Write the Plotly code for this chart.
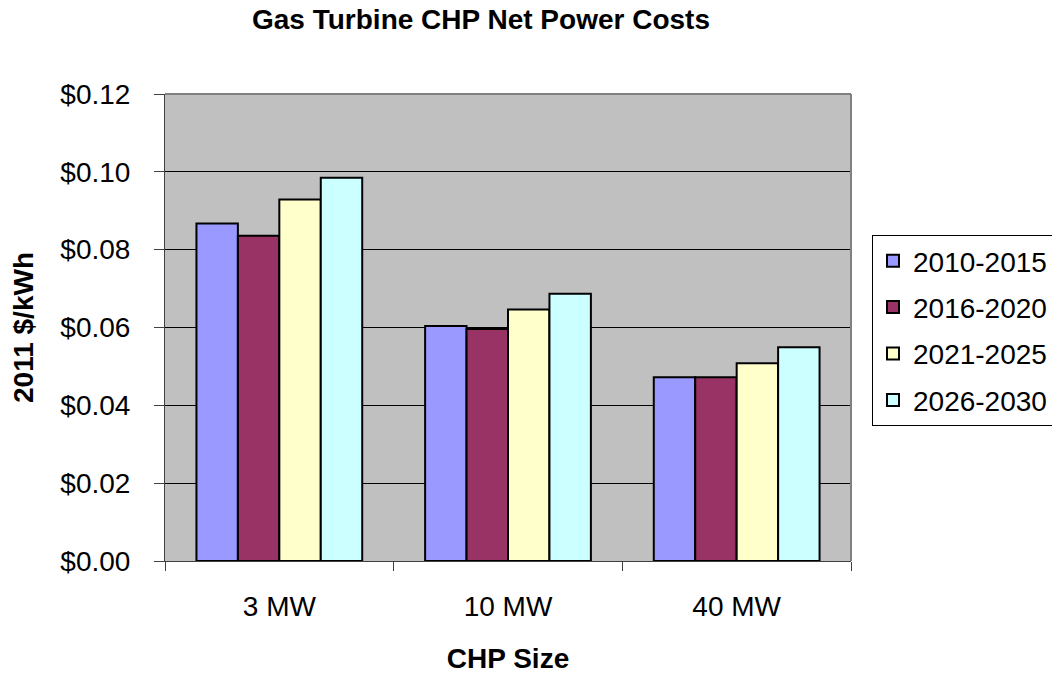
import plotly.graph_objects as go

categories = ["3 MW", "10 MW", "40 MW"]
series_names = ["2010-2015", "2016-2020", "2021-2025", "2026-2030"]
v_2010_2015 = [0.0867, 0.0604, 0.0472]
v_2016_2020 = [0.0836, 0.0596, 0.0472]
v_2021_2025 = [0.0929, 0.0646, 0.0508]
v_2026_2030 = [0.0985, 0.0687, 0.0549]
series_values = [v_2010_2015, v_2016_2020, v_2021_2025, v_2026_2030]
colors = ["#9999FF", "#993366", "#FFFFCC", "#CCFFFF"]
y_ticks = [0.0, 0.02, 0.04, 0.06, 0.08, 0.10, 0.12]
y_ticklabels = ["$0.00", "$0.02", "$0.04", "$0.06", "$0.08", "$0.10", "$0.12"]

FONT = "Liberation Sans, Arial, sans-serif"
FS = 28

W, H = 1052, 675

fig = go.Figure()
for name, vals, col in zip(series_names, series_values, colors):
    fig.add_trace(go.Bar(
        x=categories, y=vals, name=name, legendgroup=name,
        marker=dict(color=col, line=dict(color="#000000", width=2)),
    ))

fig.update_layout(
    width=W, height=H,
    margin=dict(l=165, r=W - 851, t=94, b=H - 561),
    paper_bgcolor="#FFFFFF", plot_bgcolor="#C0C0C0",
    barmode="group", bargap=0.275, bargroupgap=0,
    font=dict(family=FONT, size=FS, color="#000000"),
    title=dict(text="<b>Gas Turbine CHP Net Power Costs</b>", x=481 / W, xanchor="center",
               y=1 - 19 / H, yanchor="middle", font=dict(size=FS)),
    legend=dict(xref="container", yref="container",
                x=872 / W, xanchor="left", y=1 - 235 / H, yanchor="top",
                bordercolor="#000000", borderwidth=1, bgcolor="#FFFFFF",
                tracegroupgap=7, font=dict(size=FS)),
    showlegend=True,
)
fig.update_xaxes(
    automargin=False,
    showline=True, linecolor="#404040", linewidth=1,
    ticks="outside", tickson="boundaries", ticklen=9, tickcolor="#404040",
    ticklabelstandoff=20,
    title=dict(text="<b>CHP Size</b>", standoff=27, font=dict(size=FS)),
    showgrid=False,
)
fig.update_yaxes(
    automargin=False,
    range=[0, 0.12], tickvals=y_ticks, ticktext=y_ticklabels,
    showline=True, linecolor="#404040", linewidth=1,
    ticks="outside", ticklen=10, tickcolor="#404040",
    ticklabelstandoff=18,
    showgrid=True, gridcolor="#000000", gridwidth=1,
    zeroline=False,
    title=dict(text="<b>2011 $/kWh</b>", standoff=18, font=dict(size=FS)),
)
fig.add_shape(type="line", xref="paper", yref="paper", x0=0, x1=1, y0=1, y1=1,
              line=dict(color="#808080", width=2), layer="above")
fig.add_shape(type="line", xref="paper", yref="paper", x0=1, x1=1, y0=0, y1=1,
              line=dict(color="#808080", width=2), layer="above")

fig.write_html("out.html", config={"displayModeBar": False},
               post_script="document.body.style.margin='0';document.body.style.overflow='hidden';")
